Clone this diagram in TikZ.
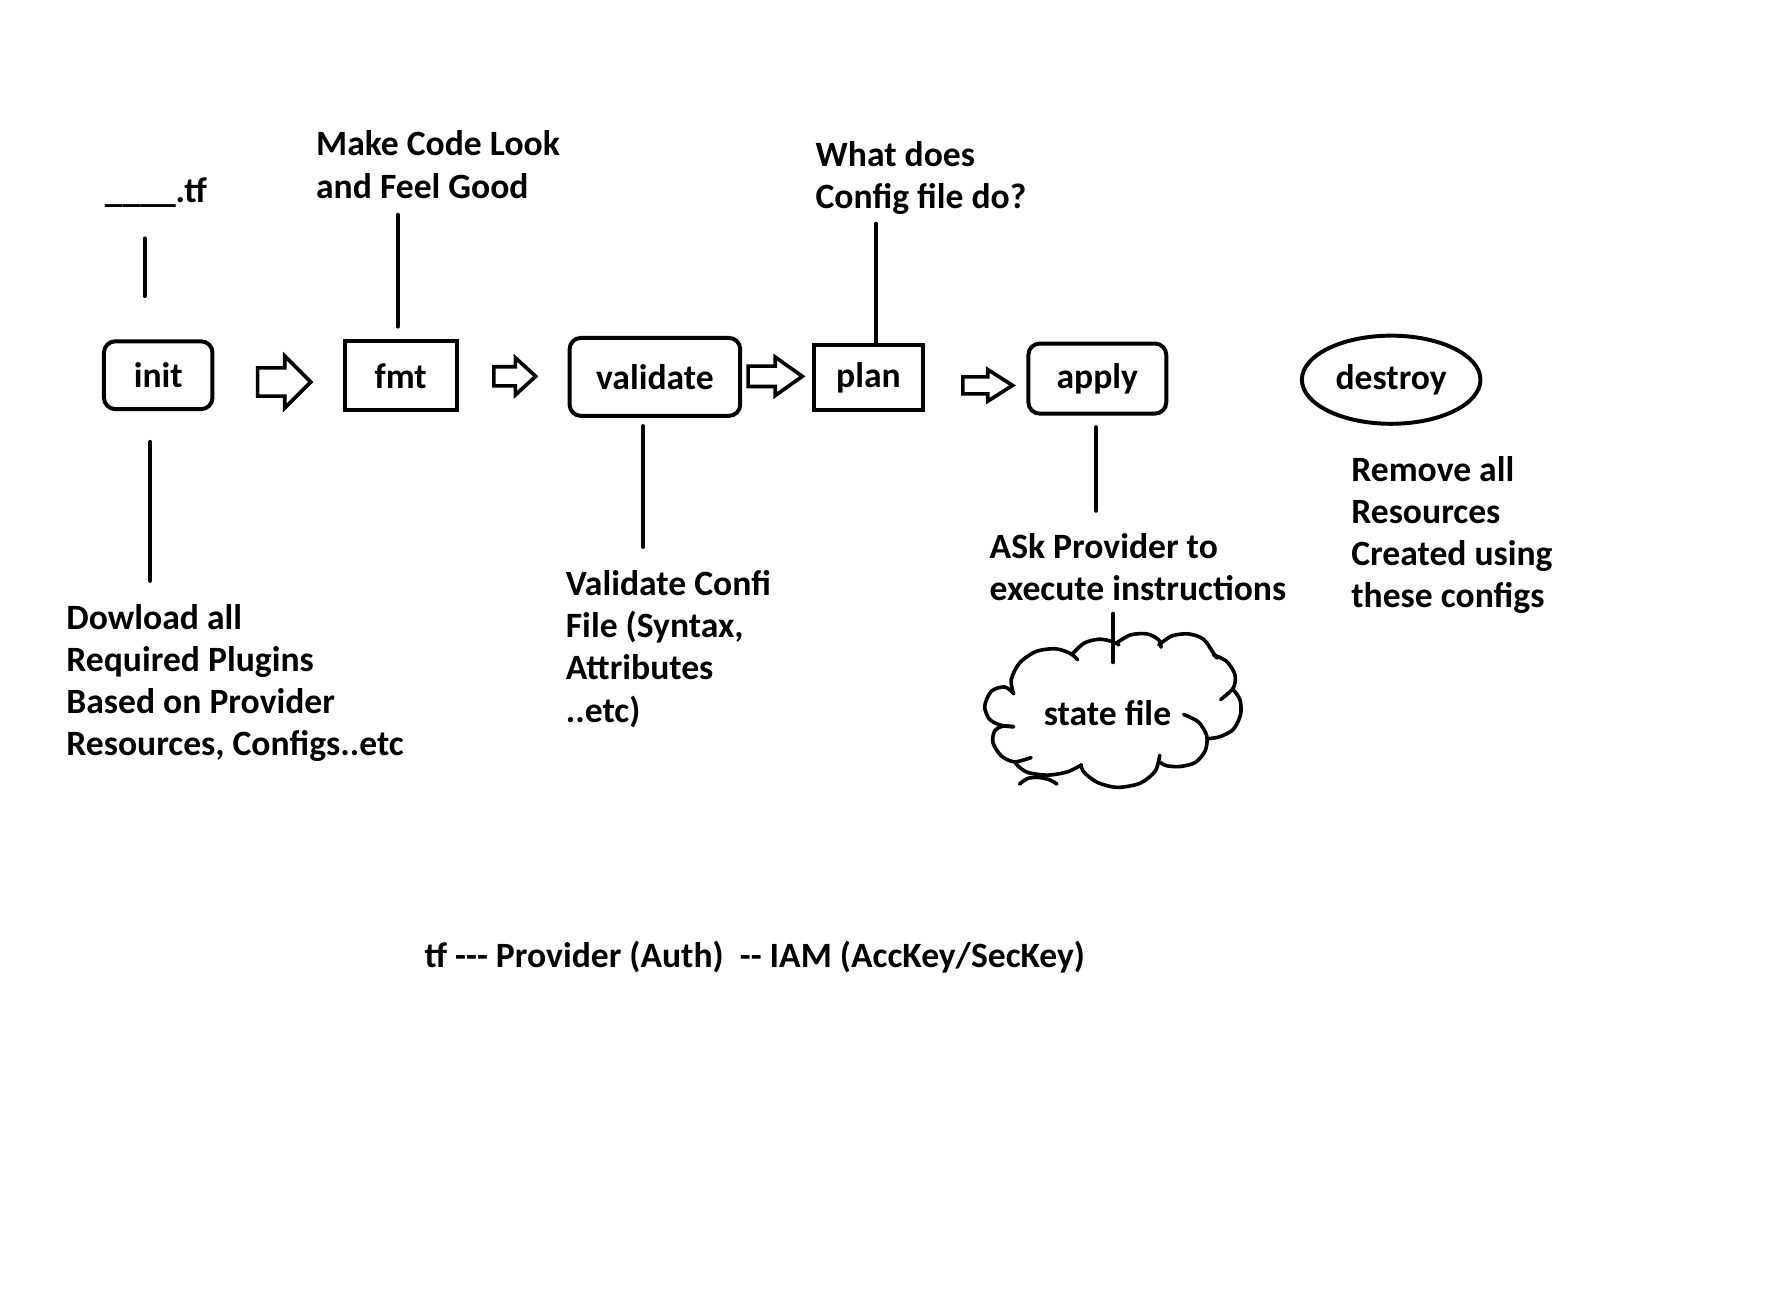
\documentclass[tikz,border=0pt]{standalone}
\usepackage{fontspec}
\setmainfont{Carlito}[Ligatures=TeXOff]
\usetikzlibrary{shapes.geometric}
\newcommand\bkarrow[6]{% x0, x1, xh, yc, head height, shaft height
  \draw[barrow] (#1,{#4-#6/2}) -- (#3,{#4-#6/2}) -- (#3,{#4-#5/2}) -- (#2,#4)
    -- (#3,{#4+#5/2}) -- (#3,{#4+#6/2}) -- (#1,{#4+#6/2}) -- cycle;}
\begin{document}
\begin{tikzpicture}[x=1pt,y=-1pt,line width=3.5pt,
  font=\fontsize{31.5}{37.3}\selectfont\bfseries,
  txt/.style={anchor=base west,align=left,inner sep=0},
  rbox/.style={draw,rounded corners=10pt,inner sep=0},
  sbox/.style={draw,inner sep=0},
  lnk/.style={line width=3.5pt,line cap=round},
  barrow/.style={draw,fill=white,line width=3.2pt,line join=miter},
  cloudline/.style={line width=3.2pt,line cap=round}]
\useasboundingbox[fill=white] (0,0) rectangle (1568,1154);

% boxes
\node[rbox,minimum width=96pt,minimum height=60pt] (init) at (140,332) {init};
\node[sbox,minimum width=99pt,minimum height=61pt] (fmt) at (354.5,332.5) {fmt};
\node[rbox,minimum width=151pt,minimum height=69pt] (validate) at (579.5,333.5) {validate};
\node[sbox,minimum width=97pt,minimum height=58pt] (plan) at (768.5,334) {plan};
\node[rbox,minimum width=122pt,minimum height=62pt] (apply) at (971,335) {apply};
\node[draw,ellipse,inner sep=0,minimum width=158pt,minimum height=78pt] (destroy) at (1231,336) {destroy};

% texts (base anchor = baseline of the last line)
\node[txt] (tf) at (91,179) {\_\_\_\_.tf};
\node[txt] (make) at (278,175.3) {Make Code Look\\and Feel Good};
\node[txt] (what) at (720,184.3) {What does\\Config file do?};
\node[txt] (dl) at (57,668.9) {Dowload all\\Required Plugins\\Based on Provider\\Resources, Configs..etc};
\node[txt] (vc) at (499,638.9) {Validate Confi\\File (Syntax,\\Attributes\\..etc)};
\node[txt] (ask) at (874,531.3) {ASk Provider to\\execute instructions};
\node[txt] (rm) at (1194,537.9) {Remove all\\Resources\\Created using\\these configs};
\node[txt] (bot) at (374,856) {tf --- Provider (Auth)\ \ -- IAM (AccKey/SecKey)};
\node[inner sep=0] (state) at (980,631) {state file};

% connector lines
\coordinate (l1a) at (128,211); \coordinate (l1b) at (128,262);
\coordinate (l2a) at (352,190); \coordinate (l2b) at (352,289);
\coordinate (l3a) at (775,198);
\coordinate (l4a) at (133,391); \coordinate (l4b) at (133,514);
\coordinate (l5a) at (569,377); \coordinate (l5b) at (569,484);
\coordinate (l6a) at (970,378); \coordinate (l6b) at (970,452);
\coordinate (l7a) at (985,543); \coordinate (l7b) at (985,586);
\draw[lnk] (l1a) -- (l1b);
\draw[lnk] (l2a) -- (l2b);
\draw[lnk] (l3a) -- (l3a |- plan.north);
\draw[lnk] (l4a) -- (l4b);
\draw[lnk] (l5a) -- (l5b);
\draw[lnk] (l6a) -- (l6b);

% block arrows
\bkarrow{228}{275}{252}{338}{46}{25}
\bkarrow{437}{474}{456}{333}{33}{17}
\bkarrow{662}{710}{686}{333}{34}{18}
\bkarrow{852}{896}{874}{341}{28}{15}

% cloud
\begin{scope}[shift={(842,531)},scale=0.2933,cloudline]
\draw plot[smooth] coordinates {(187,283) (180,240) (205,190) (255,155) (315,147) (360,162) (380,180)};
\draw plot[smooth] coordinates {(362,165) (400,130) (445,118) (485,125) (505,135)};
\draw plot[smooth] coordinates {(500,128) (540,105) (590,102) (625,120) (632,142)};
\draw plot[smooth] coordinates {(625,135) (665,108) (715,102) (760,118) (790,160) (800,175)};
\draw plot[smooth] coordinates {(790,165) (830,185) (855,225) (850,265) (812,300)};
\draw plot[smooth] coordinates {(848,268) (870,300) (872,345) (850,390) (810,412) (775,418)};
\draw plot[smooth] coordinates {(700,345) (745,368) (770,410) (765,455) (735,490) (690,502) (650,500) (630,490)};
\draw plot[smooth] coordinates {(628,468) (615,515) (570,552) (500,565) (440,550) (400,520) (390,497)};
\draw plot[smooth] coordinates {(392,497) (350,518) (290,528) (230,520) (200,500) (192,488)};
\draw plot[smooth] coordinates {(205,555) (230,538) (262,535) (295,542) (318,555)};
\draw plot[smooth] coordinates {(240,475) (190,488) (150,470) (125,430) (130,395) (155,380) (187,382)};
\draw plot[smooth] coordinates {(188,282) (160,262) (120,275) (100,320) (115,360) (150,378) (187,382)};
\end{scope}
\draw[lnk] (l7a) -- (l7b);
\end{tikzpicture}
\end{document}
